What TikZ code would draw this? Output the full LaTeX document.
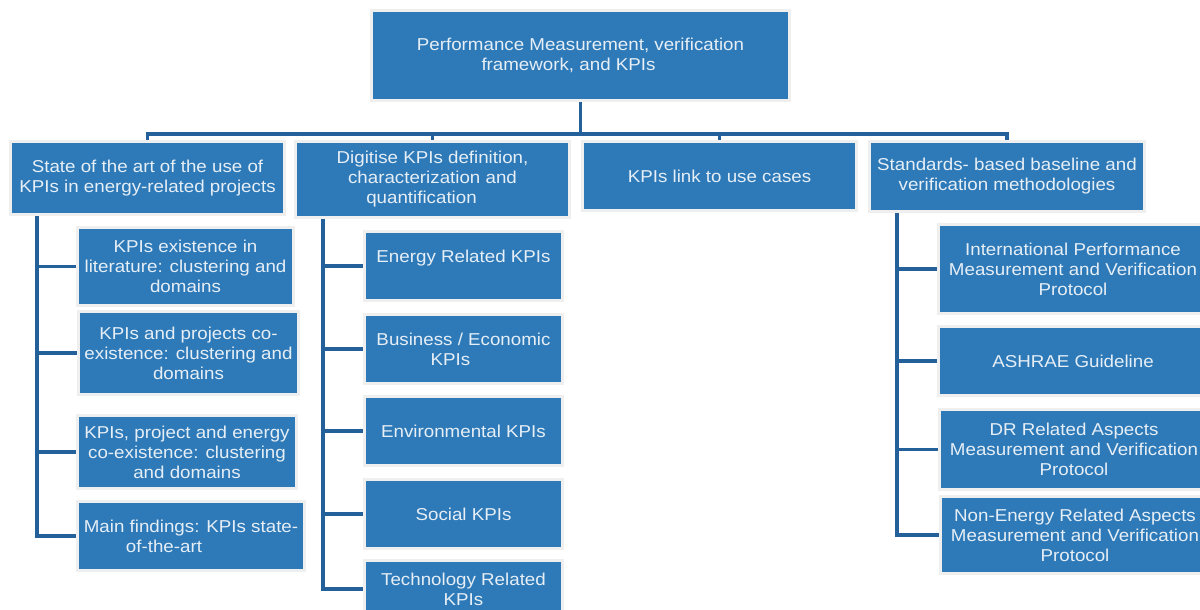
\documentclass[tikz,border=0pt]{standalone}
\usepackage{fontspec}
\setmainfont{Liberation Sans}[FakeStretch=1.09]
\definecolor{boxblue}{HTML}{2E7AB8}
\definecolor{edgegray}{HTML}{EFEFEF}
\definecolor{linkblue}{HTML}{24609A}
\definecolor{boxtext}{HTML}{E6EEF6}
\begin{document}
\begin{tikzpicture}[x=1pt,y=-1pt,
  box/.style={draw=edgegray, line width=3pt, fill=boxblue, text=boxtext, align=center,
    inner sep=0pt, font=\fontsize{17.2}{20}\selectfont},
  link/.style={draw=linkblue, line width=3.5pt}]
\useasboundingbox (0,0) rectangle (1200,610);
\clip (0,0) rectangle (1200,610);

% top
\node[box, minimum width=418, minimum height=90] (top) at (580.5,55.5)
  {Performance Measurement, verification\\framework, and KPIs\hspace*{24pt}};

% level 1
\node[box, minimum width=274, minimum height=73] (A) at (147.5,178)
  {State of the art of the use of\\KPIs in energy-related projects};
\node[box, minimum width=274, minimum height=76] (B) at (432.5,179.5)
  {Digitise KPIs definition,\\characterization and\\quantification\hspace*{22pt}};
\node[box, minimum width=274, minimum height=69] (C) at (719.5,176)
  {KPIs link to use cases};
\node[box, minimum width=275, minimum height=70] (D) at (1007,176.5)
  {Standards- based baseline and\\verification methodologies};

% children of A
\node[box, minimum width=216, minimum height=78] (A1) at (185.5,266.5)
  {KPIs existence in\\literature: clustering and\\domains};
\node[box, minimum width=220, minimum height=83] (A2) at (188.5,353)
  {KPIs and projects co-\\existence: clustering and\\domains};
\node[box, minimum width=219, minimum height=73] (A3) at (187,452)
  {KPIs, project and energy\\co-existence: clustering\\and domains};
\node[box, minimum width=227, minimum height=69] (A4) at (191,536)
  {Main findings: KPIs state-\\of-the-art\hspace*{54pt}};

% children of B
\node[box, minimum width=198, minimum height=69] (B1) at (463.5,266)
  {Energy Related KPIs\\\mbox{}};
\node[box, minimum width=198, minimum height=69] (B2) at (463.5,349)
  {Business / Economic\\KPIs\hspace*{26pt}};
\node[box, minimum width=198, minimum height=69] (B3) at (463.5,431)
  {Environmental KPIs};
\node[box, minimum width=198, minimum height=69] (B4) at (463.5,514)
  {Social KPIs};
\node[box, minimum width=198, minimum height=57] (B5) at (463.5,589)
  {Technology Related\\KPIs};

% children of D
\node[box, minimum width=269, minimum height=89] (D1) at (1073,269)
  {International Performance\\Measurement and Verification\\Protocol};
\node[box, minimum width=269, minimum height=69] (D2) at (1073,361)
  {ASHRAE Guideline};
\node[box, minimum width=269, minimum height=80] (D3) at (1074,449.5)
  {DR Related Aspects\\Measurement and Verification\\Protocol};
\node[box, minimum width=269, minimum height=77] (D4) at (1075,535)
  {Non-Energy Related Aspects\\Measurement and Verification\\Protocol};

% connectors
\coordinate (bus) at (580.5,134);
\draw[link] (top.south) -- (bus);
\foreach \n in {A,B,C,D} \draw[link] (bus) -| (\n.north);

\coordinate (sA) at (37,0);
\coordinate (sB) at (323,0);
\coordinate (sD) at (897,0);
\foreach \c in {A1,A2,A3,A4} \draw[link] (A.south -| sA) |- (\c.west);
\foreach \c in {B1,B2,B3,B4,B5} \draw[link] (B.south -| sB) |- (\c.west);
\foreach \c in {D1,D2,D3,D4} \draw[link] (D.south -| sD) |- (\c.west);
\end{tikzpicture}
\end{document}
